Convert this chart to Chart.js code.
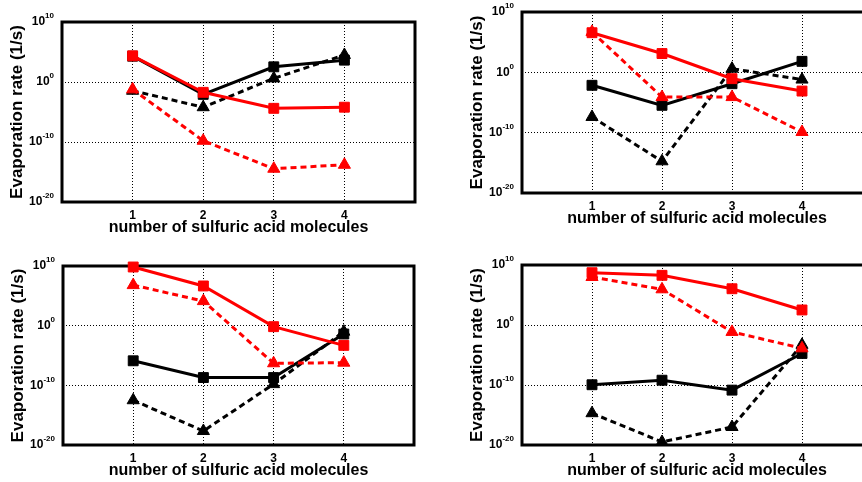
<!DOCTYPE html>
<html>
<head>
<meta charset="utf-8">
<script src="https://cdn.jsdelivr.net/npm/chart.js@4.4.0/dist/chart.umd.min.js"></script>
<style>
    html, body { margin: 0; padding: 0; background: #fff; }
    body { position: relative; width: 862px; height: 482px; overflow: hidden; }
    canvas { position: absolute; }
</style>
</head>
<body>
<canvas id="topLeft"></canvas>
<canvas id="topRight"></canvas>
<canvas id="bottomLeft"></canvas>
<canvas id="bottomRight"></canvas>
<script>
// number of sulfuric acid molecules
const molecules = [1, 2, 3, 4];

// y axis ticks (1/s) and their exponents
const yTicks = [1e10, 1, 1e-10, 1e-20];
const yTickExp = ['10', '0', '-10', '-20'];

// evaporation rates (1/s)
const tlRedSolid = [2.3e4, 1.9e-2, 4.1e-5, 6.3e-5];
const tlRedDashed = [5.9e-2, 1.6e-10, 3.5e-15, 1.6e-14];
const tlBlackSolid = [2.0e4, 8.7e-3, 3.4e2, 4.4e3];
const tlBlackDashed = [3.5e-2, 6.3e-5, 4.0e0, 3.2e4];

const trRedSolid = [3.7e6, 1.3e3, 8.9e-2, 7.9e-4];
const trRedDashed = [5.0e6, 7.9e-5, 7.9e-5, 1.3e-10];
const trBlackSolid = [7.1e-3, 3.4e-6, 1.3e-2, 6.6e1];
const trBlackDashed = [4.0e-8, 1.8e-15, 4.0e0, 6.3e-2];

const blRedSolid = [6.8e9, 4.5e6, 6.8e-1, 5.0e-4];
const blRedDashed = [6.3e6, 1.3e4, 5.0e-7, 6.3e-7];
const blBlackSolid = [1.3e-6, 2.0e-9, 2.0e-9, 4.0e-2];
const blBlackDashed = [3.2e-13, 2.2e-18, 1.6e-10, 1.0e-1];

const brRedSolid = [5.2e8, 1.9e8, 1.1e6, 3.2e2];
const brRedDashed = [1.0e8, 8.9e5, 7.1e-2, 1.3e-4];
const brBlackSolid = [1.1e-10, 6.3e-10, 1.4e-11, 1.8e-5];
const brBlackDashed = [2.0e-15, 3.2e-20, 1.0e-17, 5.0e-4];

const FONT = '"Liberation Sans", Arial, Helvetica, sans-serif';
const AXIS_W = 62;
const AXIS_H = 36;
const PAD_TOP = 22;
const PAD_RIGHT = 15;

Chart.defaults.font.family = FONT;
Chart.defaults.color = '#000';

// plot box position of each panel on the page
const panels = [
    { id: 'topLeft', left: 62, top: 22, right: 415, bottom: 202,
      series: [tlRedDashed, tlRedSolid, tlBlackDashed, tlBlackSolid] },
    { id: 'topRight', left: 522, top: 12, right: 872, bottom: 193,
      series: [trRedDashed, trRedSolid, trBlackDashed, trBlackSolid] },
    { id: 'bottomLeft', left: 63, top: 266, right: 414, bottom: 445,
      series: [blRedDashed, blRedSolid, blBlackDashed, blBlackSolid] },
    { id: 'bottomRight', left: 522, top: 265, right: 872, bottom: 445,
      series: [brRedDashed, brRedSolid, brBlackDashed, brBlackSolid] }
];

// thick box round the plot and the 10^n tick labels
const frame = {
    id: 'frame',
    beforeDatasetsDraw(chart) {
        const { ctx, chartArea: a } = chart;
        ctx.save();
        ctx.strokeStyle = '#000';
        ctx.lineWidth = 3;
        ctx.strokeRect(a.left, a.top, a.right - a.left, a.bottom - a.top);
        ctx.restore();
    },
    afterDraw(chart) {
        const { ctx, chartArea: a, scales: { y } } = chart;
        ctx.save();
        ctx.fillStyle = '#000';
        ctx.textBaseline = 'middle';
        ctx.textAlign = 'left';
        yTicks.forEach((v, i) => {
            const py = y.getPixelForValue(v);
            ctx.font = 'bold 12px ' + FONT;
            const w1 = ctx.measureText('10').width;
            ctx.font = 'bold 8px ' + FONT;
            const w2 = ctx.measureText(yTickExp[i]).width;
            const x0 = a.left - 8 - w1 - w2;
            ctx.font = 'bold 12px ' + FONT;
            ctx.fillText('10', x0, py);
            ctx.font = 'bold 8px ' + FONT;
            ctx.fillText(yTickExp[i], x0 + w1, py - 6);
        });
        ctx.restore();
    }
};

const styles = [
    { color: '#ff0000', dash: [6, 4], point: 'triangle' },
    { color: '#ff0000', dash: [], point: 'rect' },
    { color: '#000000', dash: [6, 4], point: 'triangle' },
    { color: '#000000', dash: [], point: 'rect' }
];

for (const p of panels) {
    const canvas = document.getElementById(p.id);
    canvas.width = AXIS_W + (p.right - p.left) + PAD_RIGHT;
    canvas.height = PAD_TOP + (p.bottom - p.top) + AXIS_H;
    canvas.style.left = (p.left - AXIS_W) + 'px';
    canvas.style.top = (p.top - PAD_TOP) + 'px';

    new Chart(canvas.getContext('2d'), {
        type: 'line',
        data: {
            labels: molecules,
            datasets: p.series.map((data, i) => ({
                data,
                borderColor: styles[i].color,
                backgroundColor: styles[i].color,
                borderWidth: 3,
                borderDash: styles[i].dash,
                pointStyle: styles[i].point,
                pointRadius: 7,
                pointBorderWidth: 1,
                tension: 0,
                clip: false
            }))
        },
        options: {
            responsive: false,
            animation: false,
            events: [],
            layout: { padding: { top: PAD_TOP, right: PAD_RIGHT, left: 0, bottom: 0 } },
            plugins: { legend: { display: false }, tooltip: { enabled: false } },
            scales: {
                x: {
                    type: 'linear',
                    min: 0,
                    max: 5,
                    afterFit: scale => { scale.height = AXIS_H; },
                    grid: { color: '#000', lineWidth: 1, drawTicks: false },
                    border: { display: false, dash: [1, 2] },
                    ticks: {
                        stepSize: 1,
                        autoSkip: false,
                        maxRotation: 0,
                        padding: 6,
                        font: { size: 12, weight: 'bold' },
                        callback: v => molecules.includes(v) ? String(v) : ''
                    },
                    title: {
                        display: true,
                        text: 'number of sulfuric acid molecules',
                        font: { size: 16, weight: 'bold' },
                        padding: { top: 0, bottom: 1 }
                    }
                },
                y: {
                    type: 'logarithmic',
                    min: 1e-20,
                    max: 1e10,
                    afterBuildTicks: scale => { scale.ticks = yTicks.map(value => ({ value })); },
                    afterFit: scale => { scale.width = AXIS_W; },
                    grid: { color: '#000', lineWidth: 1, drawTicks: false },
                    border: { display: false, dash: [1, 2] },
                    ticks: { display: false },
                    title: {
                        display: true,
                        text: 'Evaporation rate (1/s)',
                        font: { size: 17, weight: 'bold' },
                        padding: { top: 7, bottom: 0 }
                    }
                }
            }
        },
        plugins: [frame]
    });
}
</script>
</body>
</html>
